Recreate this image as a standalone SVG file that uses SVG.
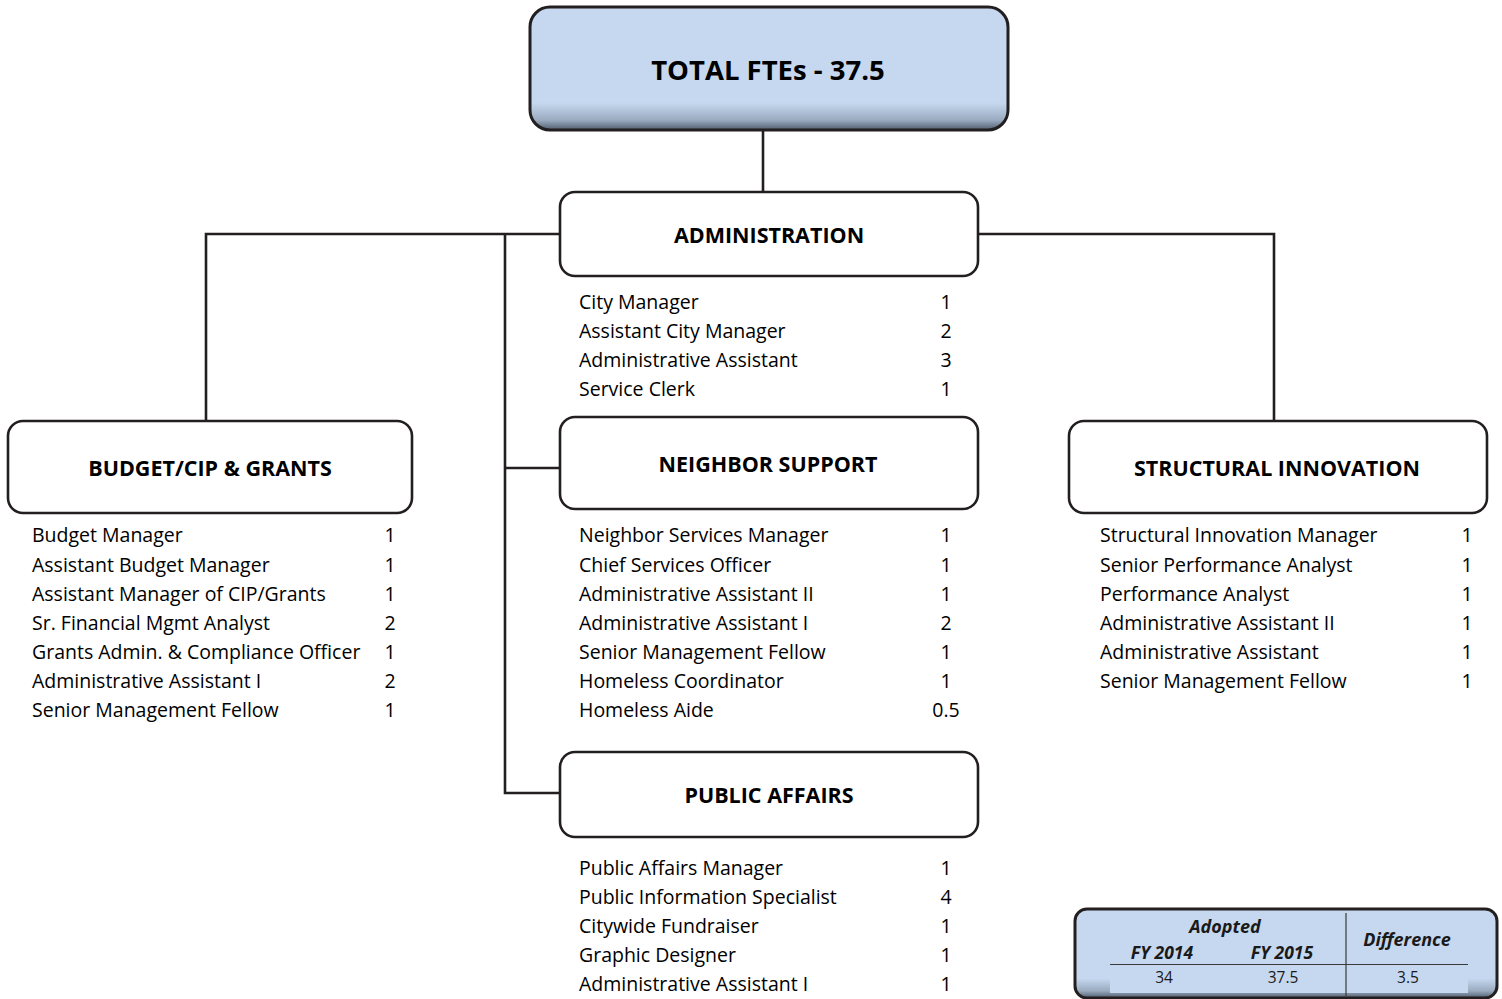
<svg xmlns="http://www.w3.org/2000/svg" width="1502" height="999" viewBox="0 0 1502 999">
  <defs>
    <linearGradient id="bevelBlue" x1="0" y1="0" x2="0" y2="1">
      <stop offset="0" stop-color="#c6d8ef"/>
      <stop offset="0.78" stop-color="#c6d8ef"/>
      <stop offset="0.92" stop-color="#9aabc0"/>
      <stop offset="1" stop-color="#4f5c6c"/>
    </linearGradient>
    <style>
      .box { fill: #ffffff; stroke: #231f20; stroke-width: 2.6; }
      .blue { fill: url(#bevelBlue); stroke: #231f20; stroke-width: 3; }
      .wire { fill: none; stroke: #231f20; stroke-width: 2.6; }
      .head { font-family: "Open Sans", "Liberation Sans", sans-serif; font-weight: bold; font-size: 21.5px; fill: #000; text-anchor: middle; }
      .title { font-family: "Open Sans", "Liberation Sans", sans-serif; font-weight: bold; font-size: 27.5px; fill: #000; text-anchor: middle; }
      .row { font-family: "Open Sans", "Liberation Sans", sans-serif; font-size: 19.5px; fill: #000; }
      .num { font-family: "Open Sans", "Liberation Sans", sans-serif; font-size: 19.5px; fill: #000; text-anchor: middle; }
      .th { font-family: "Open Sans", "Liberation Sans", sans-serif; font-weight: bold; font-style: italic; fill: #1a1a1a; text-anchor: middle; }
      .td { font-family: "Open Sans", "Liberation Sans", sans-serif; font-size: 15.5px; fill: #1a1a1a; text-anchor: middle; }
    </style>
  </defs>

  <rect width="1502" height="999" fill="#ffffff"/>

  <!-- connectors -->
  <g id="connectors">
    <line class="wire" x1="763" y1="130" x2="763" y2="191"/>
    <polyline class="wire" points="206,421 206,234 560,234"/>
    <polyline class="wire" points="978,234 1274,234 1274,421"/>
    <polyline class="wire" points="505,234 505,793 560,793"/>
    <line class="wire" x1="505" y1="468" x2="560" y2="468"/>
  </g>

  <!-- total -->
  <g id="total">
    <rect class="blue" x="530" y="7" width="478" height="123" rx="20"/>
    <text class="title" x="768" y="80">TOTAL FTEs - 37.5</text>
  </g>

  <!-- administration -->
  <g id="administration">
    <rect class="box" x="560" y="192" width="418" height="84" rx="15"/>
    <text class="head" x="769" y="243">ADMINISTRATION</text>
    <text class="row" x="579" y="309">City Manager</text>
    <text class="row" x="579" y="338">Assistant City Manager</text>
    <text class="row" x="579" y="367">Administrative Assistant</text>
    <text class="row" x="579" y="396">Service Clerk</text>
    <text class="num" x="946" y="309">1</text>
    <text class="num" x="946" y="338">2</text>
    <text class="num" x="946" y="367">3</text>
    <text class="num" x="946" y="396">1</text>
  </g>

  <!-- budget / cip & grants -->
  <g id="budget">
    <rect class="box" x="8" y="421" width="404" height="92" rx="15"/>
    <text class="head" x="210" y="476">BUDGET/CIP &amp; GRANTS</text>
    <text class="row" x="32" y="542">Budget Manager</text>
    <text class="row" x="32" y="572">Assistant Budget Manager</text>
    <text class="row" x="32" y="601">Assistant Manager of CIP/Grants</text>
    <text class="row" x="32" y="630">Sr. Financial Mgmt Analyst</text>
    <text class="row" x="32" y="659">Grants Admin. &amp; Compliance Officer</text>
    <text class="row" x="32" y="688">Administrative Assistant I</text>
    <text class="row" x="32" y="717">Senior Management Fellow</text>
    <text class="num" x="390" y="542">1</text>
    <text class="num" x="390" y="572">1</text>
    <text class="num" x="390" y="601">1</text>
    <text class="num" x="390" y="630">2</text>
    <text class="num" x="390" y="659">1</text>
    <text class="num" x="390" y="688">2</text>
    <text class="num" x="390" y="717">1</text>
  </g>

  <!-- neighbor support -->
  <g id="neighbor">
    <rect class="box" x="560" y="417" width="418" height="92" rx="15"/>
    <text class="head" x="768" y="472">NEIGHBOR SUPPORT</text>
    <text class="row" x="579" y="542">Neighbor Services Manager</text>
    <text class="row" x="579" y="572">Chief Services Officer</text>
    <text class="row" x="579" y="601">Administrative Assistant II</text>
    <text class="row" x="579" y="630">Administrative Assistant I</text>
    <text class="row" x="579" y="659">Senior Management Fellow</text>
    <text class="row" x="579" y="688">Homeless Coordinator</text>
    <text class="row" x="579" y="717">Homeless Aide</text>
    <text class="num" x="946" y="542">1</text>
    <text class="num" x="946" y="572">1</text>
    <text class="num" x="946" y="601">1</text>
    <text class="num" x="946" y="630">2</text>
    <text class="num" x="946" y="659">1</text>
    <text class="num" x="946" y="688">1</text>
    <text class="num" x="946" y="717">0.5</text>
  </g>

  <!-- structural innovation -->
  <g id="structural">
    <rect class="box" x="1069" y="421" width="418" height="92" rx="15"/>
    <text class="head" x="1277" y="476">STRUCTURAL INNOVATION</text>
    <text class="row" x="1100" y="542">Structural Innovation Manager</text>
    <text class="row" x="1100" y="572">Senior Performance Analyst</text>
    <text class="row" x="1100" y="601">Performance Analyst</text>
    <text class="row" x="1100" y="630">Administrative Assistant II</text>
    <text class="row" x="1100" y="659">Administrative Assistant</text>
    <text class="row" x="1100" y="688">Senior Management Fellow</text>
    <text class="num" x="1467" y="542">1</text>
    <text class="num" x="1467" y="572">1</text>
    <text class="num" x="1467" y="601">1</text>
    <text class="num" x="1467" y="630">1</text>
    <text class="num" x="1467" y="659">1</text>
    <text class="num" x="1467" y="688">1</text>
  </g>

  <!-- public affairs -->
  <g id="public-affairs">
    <rect class="box" x="560" y="752" width="418" height="85" rx="15"/>
    <text class="head" x="769" y="803">PUBLIC AFFAIRS</text>
    <text class="row" x="579" y="875">Public Affairs Manager</text>
    <text class="row" x="579" y="904">Public Information Specialist</text>
    <text class="row" x="579" y="933">Citywide Fundraiser</text>
    <text class="row" x="579" y="962">Graphic Designer</text>
    <text class="row" x="579" y="991">Administrative Assistant I</text>
    <text class="num" x="946" y="875">1</text>
    <text class="num" x="946" y="904">4</text>
    <text class="num" x="946" y="933">1</text>
    <text class="num" x="946" y="962">1</text>
    <text class="num" x="946" y="991">1</text>
  </g>

  <!-- FTE summary table -->
  <g id="summary">
    <rect class="blue" x="1075" y="909" width="422" height="89" rx="12"/>
    <rect x="1110" y="965" width="358" height="28" fill="#c6d8ef"/>
    <line x1="1110" y1="964.5" x2="1468" y2="964.5" stroke="#3a3a3a" stroke-width="1.2"/>
    <line x1="1346" y1="913" x2="1346" y2="996" stroke="#3a3a3a" stroke-width="1.2"/>
    <text class="th" x="1225" y="933" font-size="18px">Adopted</text>
    <text class="th" x="1162" y="959" font-size="17.5px">FY 2014</text>
    <text class="th" x="1282" y="959" font-size="17.5px">FY 2015</text>
    <text class="th" x="1407" y="946" font-size="18px">Difference</text>
    <text class="td" x="1164" y="983">34</text>
    <text class="td" x="1283" y="983">37.5</text>
    <text class="td" x="1408" y="983">3.5</text>
  </g>
</svg>
